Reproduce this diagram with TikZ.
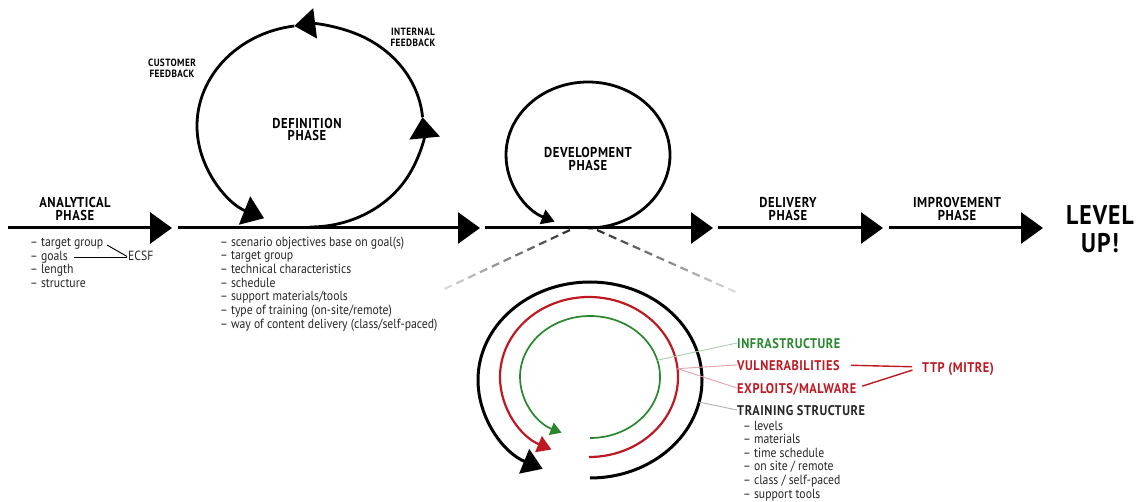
\documentclass[tikz,border=0pt]{standalone}
\usepackage{fontspec}
\setmainfont{PT Sans}[FakeStretch=0.88]
\newfontfamily\capsfont{PT Sans}[FakeStretch=0.88, LetterSpace=4, BoldFont={PT Sans Bold}]
\usetikzlibrary{arrows.meta,calc}
\definecolor{grn}{RGB}{40,135,45}
\definecolor{rd}{RGB}{190,25,35}
\definecolor{grnlite}{RGB}{170,205,170}
\definecolor{rdlite}{RGB}{225,160,170}
\tikzset{
  mainline/.style={line width=3pt, -{Triangle[length=22pt,width=31pt]}},
  loopline/.style={line width=2.8pt, -{Triangle[length=21pt,width=30pt]}},
  phaselabel/.style={font=\capsfont\bfseries\fontsize{14.3}{12.5}\selectfont, align=center, inner sep=0pt},
  smalllabel/.style={font=\capsfont\bfseries\fontsize{10.5}{11.5}\selectfont, align=center, inner sep=0pt},
  listitem/.style={font=\fontsize{13.3}{14}\selectfont, anchor=west, inner sep=0pt, text height=9.5pt, text depth=3.3pt, text=black!85},
  layerlabel/.style={font=\capsfont\bfseries\fontsize{14}{14}\selectfont, anchor=west, inner sep=0pt, text height=10pt, text depth=0pt},
  ptr/.style={line width=0.9pt},
}
\begin{document}
\begin{tikzpicture}[x=1pt,y=-1pt]
\useasboundingbox (0,0) rectangle (1139,502);

% ---- main timeline ----
\coordinate (a0) at (8,228);   \coordinate (a1) at (172,228);
\coordinate (b0) at (178,228); \coordinate (b1) at (480,228);
\coordinate (c0) at (485,228); \coordinate (c1) at (713,228);
\coordinate (d0) at (718,228); \coordinate (d1) at (883,228);
\coordinate (e0) at (889,228); \coordinate (e1) at (1043,228);
\draw[mainline] (a0) -- (a1);
\draw[mainline] (b0) -- (b1);
\draw[mainline] (c0) -- (c1);
\draw[mainline] (d0) -- (d1);
\draw[mainline] (e0) -- (e1);

% ---- phase titles ----
\node[phaselabel] (analytical) at (75,209) {ANALYTICAL\\PHASE};
\node[phaselabel] (delivery) at (788,209) {DELIVERY\\PHASE};
\node[phaselabel] (improvement) at (957,209) {IMPROVEMENT\\PHASE};
\node[phaselabel] (definition) at (307,129.5) {DEFINITION\\PHASE};
\node[phaselabel] (development) at (588,159) {DEVELOPMENT\\PHASE};
\node[font=\capsfont\bfseries\fontsize{27}{28}\selectfont, align=center, inner sep=0pt] (levelup) at (1100,229) {LEVEL\\UP!};
\node[smalllabel] (customer) at (172,68.5) {CUSTOMER\\FEEDBACK};
\node[smalllabel] (internal) at (413,37.5) {INTERNAL\\FEEDBACK};

% ---- definition loop (feedback cycle) ----
\coordinate (defc) at (310,126);
\draw[loopline] ($(defc)+(90:113 and 101)$) arc[start angle=90, end angle=-5, x radius=113, y radius=101];
\draw[loopline] ($(defc)+(-5:113 and 101)$) arc[start angle=-5, end angle=-98, x radius=113, y radius=101];
\draw[loopline] ($(defc)+(-98:113 and 101)$) arc[start angle=-98, end angle=-246, x radius=113, y radius=101];

% ---- development loop ----
\coordinate (devc) at (588,155);
\draw[line width=2.8pt, -{Triangle[length=13pt,width=15pt]}] ($(devc)+(90:82 and 73)$) arc[start angle=90, end angle=-246, x radius=82, y radius=73];

% ---- analytical phase items ----
\node[listitem] (tg) at (30,243) {– target group};
\node[listitem] (goals) at (30,257) {– goals};
\node[listitem] (len) at (30,270.5) {– length};
\node[listitem] (struct) at (30,284) {– structure};
\node[listitem] (ecsf) at (128,257) {ECSF};
\draw[ptr, shorten <=4pt, shorten >=1pt] (tg.east) -- (ecsf.west);
\draw[ptr, shorten <=6pt, shorten >=1pt] (goals.east) -- (ecsf.west);

% ---- definition phase items ----
\node[listitem] (d1) at (220,243) {– scenario objectives base on goal(s)};
\node[listitem] (d2) at (220,256.7) {– target group};
\node[listitem] (d3) at (220,270.3) {– technical characteristics};
\node[listitem] (d4) at (220,284) {– schedule};
\node[listitem] (d5) at (220,297.7) {– support materials/tools};
\node[listitem] (d6) at (220,311.3) {– type of training (on-site/remote)};
\node[listitem] (d7) at (220,325) {– way of content delivery (class/self-paced)};

% ---- zoom guides below the development loop ----
\coordinate (zl0) at (570,230); \coordinate (zl1) at (440,291);
\coordinate (zr0) at (597,230); \coordinate (zr1) at (740,294);
\foreach \i in {0,...,10}{
  \pgfmathsetmacro\ta{\i/11}
  \pgfmathsetmacro\tb{(\i+0.62)/11}
  \pgfmathsetmacro\sh{80-6.5*\i}
  \draw[line width=2.2pt, black!\sh] ($(zl0)!\ta!(zl1)$) -- ($(zl0)!\tb!(zl1)$);
}
\foreach \i in {0,...,11}{
  \pgfmathsetmacro\ta{\i/12}
  \pgfmathsetmacro\tb{(\i+0.62)/12}
  \pgfmathsetmacro\sh{80-6*\i}
  \draw[line width=2.2pt, black!\sh] ($(zr0)!\ta!(zr1)$) -- ($(zr0)!\tb!(zr1)$);
}

% ---- nested spirals of the development phase ----
\coordinate (kc) at (590,380);
\coordinate (rc) at (589,377);
\coordinate (gc) at (590,377);
\draw[line width=3pt, -{Triangle[length=20pt,width=26pt]}] ($(kc)+(90:112 and 98)$) arc[start angle=90, end angle=-245, x radius=112, y radius=98];
\draw[rd, line width=2.2pt, -{Triangle[length=14pt,width=17pt]}] ($(rc)+(90:89 and 80)$) arc[start angle=90, end angle=-245, x radius=89, y radius=80];
\draw[grn, line width=1.7pt, -{Triangle[length=11pt,width=13pt]}] ($(gc)+(90:70 and 61)$) arc[start angle=90, end angle=-246, x radius=70, y radius=61];
\coordinate (gp) at ($(gc)+(-16:70 and 61)$);
\coordinate (rp) at ($(rc)+(-6:89 and 80)$);
\coordinate (kp) at ($(kc)+(13:112 and 98)$);

% ---- layer labels ----
\node[layerlabel, text=grn] (infra) at (737,343) {INFRASTRUCTURE};
\node[layerlabel, text=rd] (vuln) at (737,365) {VULNERABILITIES};
\node[layerlabel, text=rd] (expl) at (737,388) {EXPLOITS/MALWARE};
\node[layerlabel, text=black!85] (train) at (737,410) {TRAINING STRUCTURE};
\node[layerlabel, text=rd] (ttp) at (922,367) {TTP (MITRE)};
\draw[ptr, grnlite] (gp) -- (infra.west);
\draw[ptr, rdlite] (rp) -- (vuln.west);
\draw[ptr, rdlite] (rp) -- (expl.west);
\draw[ptr, black!30] (kp) -- (train.west);
\draw[rd, line width=1.4pt, shorten <=11pt, shorten >=10pt] (vuln.east) -- (ttp.west);
\draw[rd, line width=1.4pt, shorten <=6pt, shorten >=10pt] (expl.east) -- (ttp.west);

% ---- training structure items ----
\node[listitem] (t1) at (743,427) {– levels};
\node[listitem] (t2) at (743,440.6) {– materials};
\node[listitem] (t3) at (743,454.2) {– time schedule};
\node[listitem] (t4) at (743,467.8) {– on site / remote};
\node[listitem] (t5) at (743,481.4) {– class / self-paced};
\node[listitem] (t6) at (743,495) {– support tools};
\end{tikzpicture}
\end{document}
